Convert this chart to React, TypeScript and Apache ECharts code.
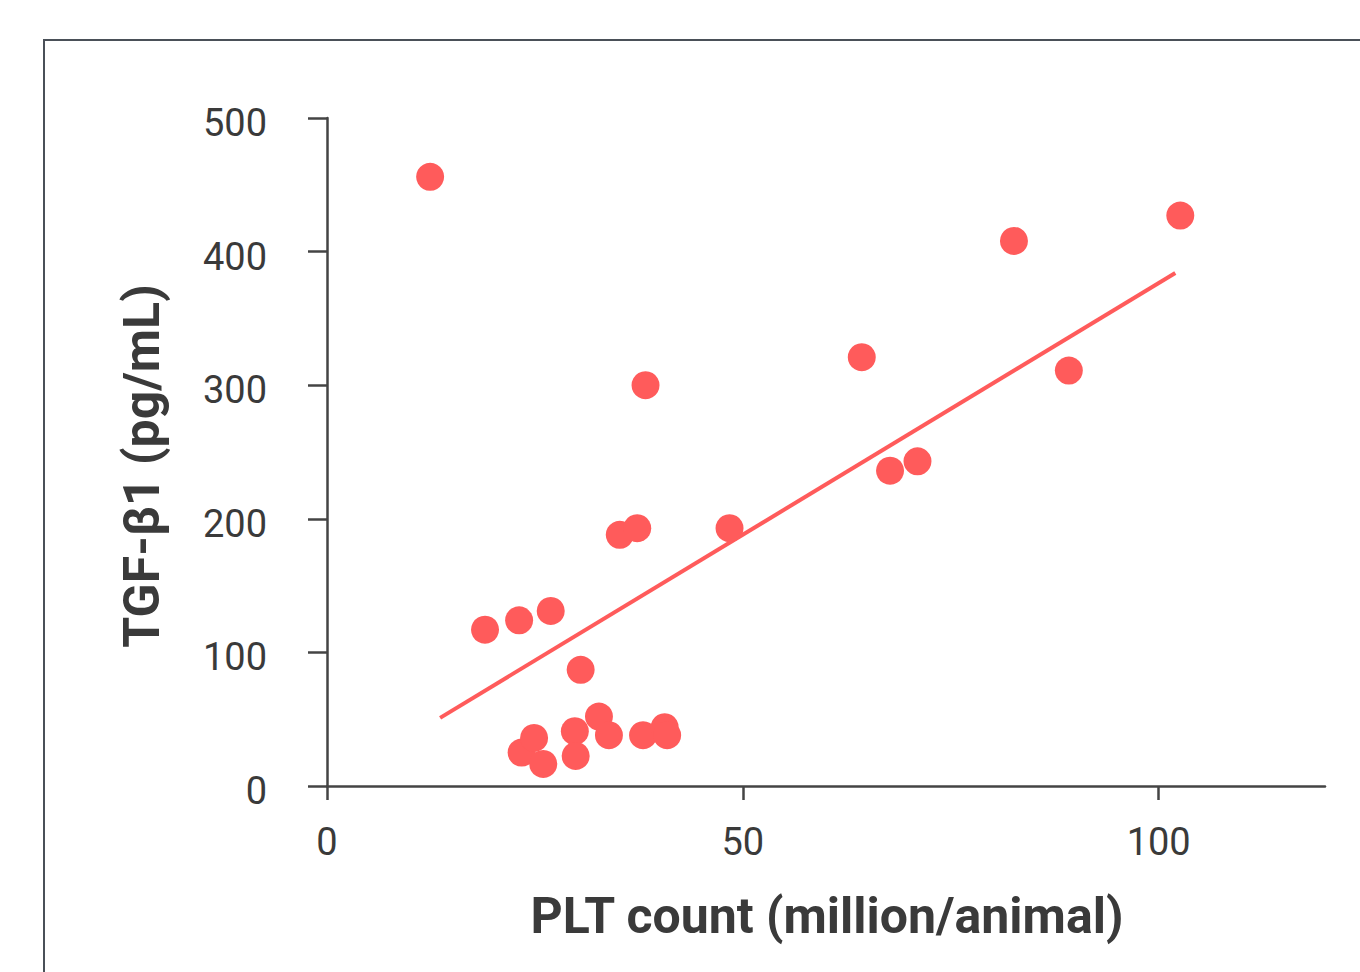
import React, { useEffect, useRef } from "react";
import * as echarts from "echarts";

const pltCount = [12.4, 19.0, 23.1, 26.9, 30.5, 23.4, 24.9, 26.0, 29.8, 29.9, 32.7, 33.9, 35.2, 37.3, 38.3, 38.0, 40.6, 40.9, 48.4, 64.3, 67.7, 71.0, 82.6, 89.2, 102.6];
const tgfBeta1 = [456, 117, 124, 131, 87, 25, 36, 16.5, 41, 22.5, 52, 38, 188, 193, 300, 38, 44, 38, 193, 321, 236, 243, 408, 311, 427];
const trendX = [13.6, 102.0];
const trendY = [51, 384];
const xTicks = [0, 50, 100];
const yTicks = [0, 100, 200, 300, 400, 500];

const RED = "#FF5B5B";
const AXIS = "#444444";
const TEXT = "#3a3a3a";
const FONT = "Roboto";

export default function App() {
  const ref = useRef<HTMLDivElement>(null);
  useEffect(() => {
    if (!ref.current) return;
    const chart = echarts.init(ref.current, null, { renderer: "svg" });
    const points = pltCount.map((x, i) => [x, tgfBeta1[i]]);
    const trend = trendX.map((x, i) => [x, trendY[i]]);
    chart.setOption({
      animation: false,
      backgroundColor: "#ffffff",
      grid: { left: 327, top: 118, right: 35, bottom: 186 },
      xAxis: {
        type: "value",
        min: 0,
        max: 120,
        interval: 50,
        splitLine: { show: false },
        axisLine: { onZero: false, lineStyle: { color: AXIS, width: 2.5 } },
        axisTick: { show: true, length: 14, lineStyle: { color: AXIS, width: 2.5 }, customValues: xTicks },
        axisLabel: {
          customValues: xTicks,
          color: TEXT,
          fontFamily: FONT,
          fontSize: 38,
          margin: 37,
        },
      },
      yAxis: {
        type: "value",
        min: 0,
        max: 500,
        interval: 100,
        splitLine: { show: false },
        axisLine: { show: true, onZero: false, lineStyle: { color: AXIS, width: 2.5 } },
        axisTick: { show: true, length: 19, lineStyle: { color: AXIS, width: 2.5 }, customValues: yTicks },
        axisLabel: {
          customValues: yTicks,
          color: TEXT,
          fontFamily: FONT,
          fontSize: 38,
          margin: 60,
          verticalAlign: "top",
          lineHeight: 10,
        },
      },
      graphic: [
        {
          type: "rect",
          shape: { x: 44, y: 40, width: 1400, height: 1000 },
          style: { fill: "none", stroke: "#4a5058", lineWidth: 2 },
          silent: true,
        },
        {
          type: "text",
          x: 827,
          y: 916,
          style: {
            text: "PLT count (million/animal)",
            fontFamily: FONT,
            fontWeight: "bold",
            fontSize: 50,
            fill: TEXT,
            textAlign: "center",
            textVerticalAlign: "middle",
          },
        },
        {
          type: "text",
          x: 142,
          y: 466,
          rotation: Math.PI / 2,
          style: {
            text: "TGF-β1 (pg/mL)",
            fontFamily: FONT,
            fontWeight: "bold",
            fontSize: 50,
            fill: TEXT,
            textAlign: "center",
            textVerticalAlign: "middle",
          },
        },
      ],
      series: [
        {
          type: "line",
          data: trend,
          symbol: "none",
          lineStyle: { color: RED, width: 4 },
          z: 1,
        },
        {
          type: "scatter",
          data: points,
          symbolSize: 28,
          itemStyle: { color: RED, opacity: 1 },
          z: 2,
        },
      ],
    });
    return () => chart.dispose();
  }, []);
  return (
    <div
      ref={ref}
      style={{ position: "absolute", left: 0, top: 0, width: 1360, height: 972 }}
    />
  );
}
